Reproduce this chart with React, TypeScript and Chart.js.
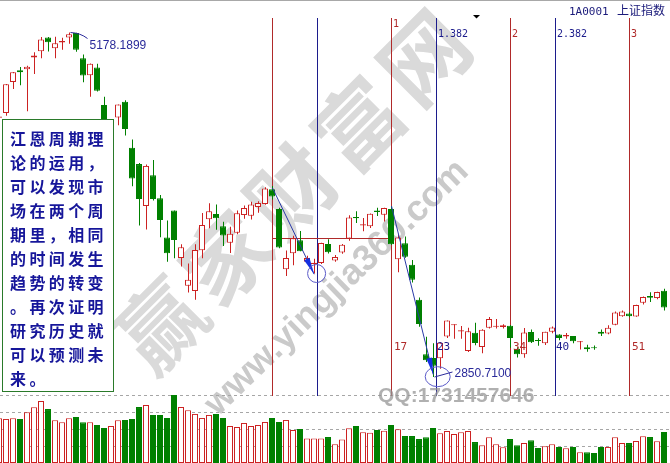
import React, { useEffect, useRef } from "react";
import { Chart, registerables } from "chart.js";

Chart.register(...registerables);

// ---- data (Shanghai Composite daily) ----
const dates = [
  "05-29",
  "06-01", "06-02", "06-03", "06-04", "06-05", "06-08", "06-09", "06-10", "06-11", "06-12",
  "06-15", "06-16", "06-17", "06-18", "06-19", "06-23", "06-24", "06-25", "06-26",
  "06-29", "06-30", "07-01", "07-02", "07-03", "07-06", "07-07", "07-08", "07-09", "07-10",
  "07-13", "07-14", "07-15", "07-16", "07-17", "07-20", "07-21", "07-22", "07-23", "07-24",
  "07-27", "07-28", "07-29", "07-30", "07-31", "08-03", "08-04", "08-05", "08-06", "08-07",
  "08-10", "08-11", "08-12", "08-13", "08-14", "08-17", "08-18", "08-19", "08-20", "08-21",
  "08-24", "08-25", "08-26", "08-27", "08-28", "08-31", "09-01", "09-02", "09-07", "09-08",
  "09-09", "09-10", "09-11", "09-14", "09-15", "09-16", "09-17", "09-18", "09-21", "09-22",
  "09-23", "09-24", "09-25", "09-28", "09-29", "09-30", "10-08", "10-09", "10-12", "10-13",
  "10-14", "10-15", "10-16", "10-19", "10-20", "10-21",
];
const opens = [
  4603,
  4634, 4844, 4924, 4930, 5010, 5052, 5145, 5071, 5110, 5144,
  5175, 5004, 4890, 4942, 4689, 4471, 4604, 4711, 4399,
  4289, 4006, 4214, 4058, 3793, 3975, 3654, 3467, 3432, 3707,
  3916, 3952, 3870, 3758, 3826, 3945, 3940, 4000, 4020, 4120,
  3985, 3578, 3686, 3774, 3630, 3614, 3621, 3749, 3638, 3692,
  3786, 3928, 3874, 3869, 3976, 3947, 3986, 3646, 3754, 3609,
  3373, 3004, 2980, 2978, 3125, 3203, 3158, 3027, 3149, 3054,
  3183, 3190, 3189, 3197, 3041, 3004, 3154, 3098, 3078, 3157,
  3138, 3125, 3128, 3086, 3052, 3050, 3156, 3145, 3203, 3262,
  3280, 3259, 3353, 3398, 3384, 3434,
];
const highs = [
  4631,
  4830, 4911, 4945, 4953, 5045, 5147, 5147, 5150, 5143, 5178.19,
  5176, 5029, 4969, 4967, 4744, 4577, 4691, 4720, 4456,
  4297, 4287, 4317, 4080, 3908, 3975, 3748, 3617, 3748, 3959,
  4024, 4017, 3900, 3866, 3975, 4010, 4035, 4038, 4132, 4141,
  3995, 3705, 3805, 3838, 3670, 3650, 3757, 3782, 3675, 3750,
  3943, 3970, 3925, 3955, 3994, 3994, 4006, 3811, 3800, 3641,
  3388, 3123, 3079, 3085, 3233, 3207, 3195, 3183, 3217, 3174,
  3256, 3243, 3208, 3202, 3052, 3182, 3172, 3113, 3157, 3192,
  3140, 3148, 3128, 3094, 3069, 3063, 3172, 3200, 3294, 3300,
  3288, 3339, 3394, 3423, 3426, 3447,
];
const lows = [
  4563,
  4615, 4797, 4821, 4647, 4898, 5005, 5050, 5004, 5062, 5103,
  5048, 4842, 4744, 4780, 4476, 4264, 4552, 4483, 4139,
  3875, 3847, 4043, 3795, 3629, 3653, 3597, 3421, 3373, 3653,
  3855, 3845, 3736, 3688, 3815, 3920, 3915, 3960, 4015, 4050,
  3720, 3533, 3606, 3701, 3620, 3550, 3614, 3685, 3629, 3683,
  3771, 3891, 3835, 3857, 3938, 3901, 3743, 3558, 3657, 3490,
  3191, 2952, 2850.71, 2906, 3114, 3109, 3110, 3019, 3066, 3011,
  3179, 3178, 3178, 3049, 2983, 2981, 3081, 3062, 3067, 3146,
  3099, 3110, 3078, 3036, 3021, 3035, 3127, 3140, 3200, 3258,
  3255, 3258, 3340, 3357, 3376, 3300,
];
const closes = [
  4611,
  4828, 4910, 4910, 4947, 5023, 5131, 5113, 5106, 5121, 5166,
  5062, 4887, 4967, 4785, 4478, 4576, 4691, 4527, 4192,
  4053, 4277, 4053, 3912, 3686, 3776, 3727, 3507, 3709, 3877,
  3970, 3924, 3806, 3818, 3957, 3992, 4017, 4026, 4124, 4070,
  3725, 3655, 3789, 3700, 3655, 3622, 3756, 3694, 3661, 3744,
  3928, 3927, 3882, 3954, 3965, 3993, 3748, 3794, 3664, 3507,
  3209, 2964, 2927, 3083, 3232, 3205, 3166, 3160, 3080, 3170,
  3243, 3197, 3200, 3114, 3005, 3152, 3086, 3097, 3157, 3185,
  3115, 3135, 3092, 3093, 3038, 3046, 3143, 3183, 3287, 3293,
  3262, 3338, 3391, 3386, 3425, 3320,
];
const volumes = [
  267,
  263, 267, 263, 303, 333, 370, 322, 255, 243, 267,
  275, 243, 243, 227, 209, 221, 255, 257, 263,
  334, 346, 287, 287, 269, 406, 334, 315, 293, 269,
  287, 293, 269, 221, 215, 239, 221, 227, 245, 269,
  245, 257, 197, 203, 147, 147, 147, 155, 112, 141,
  207, 221, 183, 181, 197, 193, 227, 201, 161, 161,
  143, 153, 209, 177, 191, 173, 183, 191, 125, 106,
  153, 112, 94, 143, 106, 119, 136, 90, 100, 112,
  96, 88, 96, 64, 64, 60, 96, 96, 153, 119,
  119, 131, 159, 155, 130, 185,
];
const FIRST_INDEX = -1;

const volumeGrid = [100, 200, 300, 400];

const peakIndex = 9;
const peakText = "5178.1899";
const troughIndex = 61;
const troughText = "2850.7100";

const redCycleIndex = [38, 55, 72, 89];
const redCycleText = ["", "1", "2", "3"];
const blueCycleIndex = [44.49, 61.49, 78.49];
const blueCycleText = ["", "1.382", "2.382"];
const countIndex = [55, 61.49, 72, 78.49, 89];
const countText = ["17", "23", "34", "40", "51"];
const countBlue = [false, true, false, true, false];

const arrowStart = [[38, 4128], [55, 4006]];
const arrowEnd = [[43.95, 3545], [60.97, 2867]];
const circleCenter = [[44.3, 3550], [61.6, 2853]];
const circleRadius = [[9, 9], [12.5, 10]];
const levelLine = [38, 55, 3788];

const noteLines = [
  "江恩周期理",
  "论的运用，",
  "可以发现市",
  "场在两个周",
  "期里，相同",
  "的时间发生",
  "趋势的转变",
  "。再次证明",
  "研究历史就",
  "可以预测未",
  "来。",
];
const headerCode = "1A0001";
const headerName = "上证指数";
const watermarkText = "赢家财富网";
const watermarkUrl = "www.yingjia360.com";
const watermarkQQ = "QQ:1731457646";

// ---- scale setup ----
const W = 670;
const H = 463;
const X_MIN = -6.5 / 7;
const X_MAX = X_MIN + W / 7;
const XB_MIN = X_MIN + 0.5 / 7;
const XB_MAX = XB_MIN + W / 7;
const P_MAX = 5397.76;
const P_MIN = 2269.8;
const V_MAX = 2764;

const RED = "#cc2222";
const GREEN = "#008000";
const LINE_RED = "#b02a2a";
const NAVY = "#1c1c8c";

const crisp = (v: number) => Math.round(v - 0.5) + 0.5;

function drawArrow(ctx: CanvasRenderingContext2D, x1: number, y1: number, x2: number, y2: number, len: number, wid: number) {
  ctx.strokeStyle = "#2a3aa8";
  ctx.lineWidth = 1;
  ctx.beginPath();
  ctx.moveTo(x1, y1);
  ctx.lineTo(x2, y2);
  ctx.stroke();
  const a = Math.atan2(y2 - y1, x2 - x1);
  const bx = x2 - len * Math.cos(a);
  const by = y2 - len * Math.sin(a);
  const nx = (-Math.sin(a) * wid) / 2;
  const ny = (Math.cos(a) * wid) / 2;
  ctx.fillStyle = "#1530e0";
  ctx.beginPath();
  ctx.moveTo(x2, y2);
  ctx.lineTo(bx + nx, by + ny);
  ctx.lineTo(bx - nx, by - ny);
  ctx.closePath();
  ctx.fill();
}

const overlay = {
  id: "overlay",
  beforeDatasetsDraw(chart: any) {
    const ctx: CanvasRenderingContext2D = chart.ctx;
    const xs = chart.scales.x;
    const ys = chart.scales.y;
    const vs = chart.scales.yv;
    ctx.save();
    // top frame
    ctx.strokeStyle = "#a8a8a8";
    ctx.lineWidth = 1;
    ctx.beginPath();
    ctx.moveTo(0, 0.5);
    ctx.lineTo(W, 0.5);
    ctx.stroke();

    // watermark
    ctx.textAlign = "center";
    ctx.textBaseline = "middle";
    ctx.fillStyle = "#dadada";
    ctx.font = 'bold 86px "Noto Sans CJK SC"';
    for (let i = 0; i < watermarkText.length; i++) {
      ctx.save();
      ctx.translate(160 + i * 66, 325 - i * 67);
      ctx.rotate((-45 * Math.PI) / 180);
      ctx.fillText(watermarkText[i], 0, 0);
      ctx.restore();
    }
    ctx.save();
    ctx.translate(337, 288);
    ctx.rotate((-44 * Math.PI) / 180);
    ctx.font = 'bold 36px "Liberation Sans"';
    ctx.fillStyle = "#cacaca";
    ctx.fillText(watermarkUrl, 0, 0);
    ctx.restore();

    // volume grid
    ctx.strokeStyle = "#a6a6a6";
    ctx.setLineDash([3, 3]);
    for (const v of volumeGrid) {
      const y = crisp(vs.getPixelForValue(v));
      ctx.beginPath();
      ctx.moveTo(0, y);
      ctx.lineTo(W, y);
      ctx.stroke();
    }
    ctx.setLineDash([]);

    // cycle lines
    const top = 18;
    const bottom = Math.round(vs.getPixelForValue(400));
    ctx.strokeStyle = LINE_RED;
    for (const k of redCycleIndex) {
      const x = crisp(xs.getPixelForValue(k));
      ctx.beginPath();
      ctx.moveTo(x, top);
      ctx.lineTo(x, bottom);
      ctx.stroke();
    }
    ctx.strokeStyle = NAVY;
    for (const k of blueCycleIndex) {
      const x = crisp(xs.getPixelForValue(k));
      ctx.beginPath();
      ctx.moveTo(x, top);
      ctx.lineTo(x, bottom);
      ctx.stroke();
    }
    // level line
    ctx.strokeStyle = LINE_RED;
    const ly = crisp(ys.getPixelForValue(levelLine[2]));
    ctx.beginPath();
    ctx.moveTo(crisp(xs.getPixelForValue(levelLine[0])), ly);
    ctx.lineTo(crisp(xs.getPixelForValue(levelLine[1])), ly);
    ctx.stroke();
    ctx.restore();
  },
  afterDatasetsDraw(chart: any) {
    const ctx: CanvasRenderingContext2D = chart.ctx;
    const xs = chart.scales.x;
    const ys = chart.scales.y;
    ctx.save();

    // arrows
    for (let i = 0; i < arrowStart.length; i++) {
      drawArrow(
        ctx,
        xs.getPixelForValue(arrowStart[i][0]),
        ys.getPixelForValue(arrowStart[i][1]),
        xs.getPixelForValue(arrowEnd[i][0]),
        ys.getPixelForValue(arrowEnd[i][1]),
        17,
        6
      );
    }
    // circles
    ctx.strokeStyle = "#5a5ac8";
    ctx.lineWidth = 1;
    for (let i = 0; i < circleCenter.length; i++) {
      ctx.beginPath();
      ctx.ellipse(
        xs.getPixelForValue(circleCenter[i][0]),
        ys.getPixelForValue(circleCenter[i][1]),
        circleRadius[i][0],
        circleRadius[i][1],
        0,
        0,
        Math.PI * 2
      );
      ctx.stroke();
    }

    // peak / trough annotations
    const pi = peakIndex - FIRST_INDEX;
    const px0 = xs.getPixelForValue(peakIndex) + 1;
    const py0 = ys.getPixelForValue(highs[pi]);
    ctx.strokeStyle = "#2a2a9a";
    ctx.beginPath();
    ctx.moveTo(px0, py0);
    ctx.quadraticCurveTo(px0 + 10, py0 + 0.5, px0 + 17, py0 + 6);
    ctx.stroke();
    ctx.fillStyle = "#2a2a9a";
    ctx.font = '12px "Liberation Sans"';
    ctx.textAlign = "left";
    ctx.textBaseline = "alphabetic";
    ctx.fillText(peakText, px0 + 19, py0 + 16);

    const ti = troughIndex - FIRST_INDEX;
    const tx0 = xs.getPixelForValue(troughIndex) + 1;
    const ty0 = ys.getPixelForValue(lows[ti]);
    ctx.beginPath();
    ctx.moveTo(tx0, ty0);
    ctx.lineTo(tx0 + 18, ty0 - 5);
    ctx.stroke();
    ctx.fillText(troughText, tx0 + 20, ty0 - 0.5);

    // cycle labels
    ctx.font = '10px "DejaVu Sans Mono"';
    for (let i = 0; i < redCycleIndex.length; i++) {
      if (!redCycleText[i]) continue;
      ctx.fillStyle = LINE_RED;
      const x = Math.round(xs.getPixelForValue(redCycleIndex[i])) + 1;
      ctx.fillText(redCycleText[i], x, i === 1 ? 27 : 37);
    }
    for (let i = 0; i < blueCycleIndex.length; i++) {
      if (!blueCycleText[i]) continue;
      ctx.fillStyle = NAVY;
      const x = Math.round(xs.getPixelForValue(blueCycleIndex[i])) + 1;
      ctx.fillText(blueCycleText[i], x, 37);
    }
    ctx.font = '11px "DejaVu Sans Mono"';
    for (let i = 0; i < countIndex.length; i++) {
      ctx.fillStyle = countBlue[i] ? NAVY : LINE_RED;
      const x = Math.round(xs.getPixelForValue(countIndex[i])) + (countBlue[i] ? 0 : 2);
      ctx.fillText(countText[i], x, 350);
    }

    // header
    ctx.fillStyle = "#1a1a7a";
    ctx.font = '11px "DejaVu Sans Mono"';
    ctx.fillText(headerCode, 569, 15);
    ctx.font = '12px "Noto Sans CJK SC"';
    ctx.fillText(headerName, 617, 15);
    ctx.fillStyle = "#000";
    ctx.beginPath();
    ctx.moveTo(473, 15);
    ctx.lineTo(480, 15);
    ctx.lineTo(476.5, 18.5);
    ctx.closePath();
    ctx.fill();

    // QQ watermark
    ctx.fillStyle = "rgba(150,150,150,0.75)";
    ctx.font = 'bold 21px "Liberation Sans"';
    ctx.fillText(watermarkQQ, 378, 402);

    // note box
    ctx.fillStyle = "#ffffff";
    ctx.fillRect(2, 119, 112, 273);
    ctx.strokeStyle = "#2a7a2a";
    ctx.strokeRect(2.5, 119.5, 111, 272);
    ctx.fillStyle = "#16169a";
    ctx.font = 'bold 16px "Noto Sans CJK SC"';
    ctx.textBaseline = "middle";
    for (let r = 0; r < noteLines.length; r++) {
      const line = noteLines[r];
      for (let c = 0; c < line.length; c++) {
        ctx.fillText(line[c], 10 + c * 19.4, 139 + r * 24);
      }
    }
    ctx.restore();
  },
};

export default function App() {
  const ref = useRef<HTMLCanvasElement>(null);
  useEffect(() => {
    document.body.style.margin = "0";
    const canvas = ref.current;
    if (!canvas) return;
    const xsIdx = opens.map((_, i) => i + FIRST_INDEX);
    const up = closes.map((c, i) => c >= opens[i]);
    const minBody = 7;
    const bodyData = xsIdx.map((x, i) => {
      let a = opens[i];
      let b = closes[i];
      if (Math.abs(b - a) < minBody) {
        const m = (a + b) / 2;
        a = m - minBody / 2;
        b = m + minBody / 2;
      }
      return { x, y: [a, b] };
    });
    const wickData = xsIdx.map((x, i) => ({ x, y: [lows[i], highs[i]] }));
    const volData = xsIdx.map((x, i) => ({ x, y: volumes[i] }));

    const chart = new Chart(canvas, {
      type: "bar",
      data: {
        labels: dates,
        datasets: [
          {
            label: "body",
            data: bodyData as any,
            xAxisID: "xb",
            yAxisID: "y",
            grouped: false,
            barThickness: 6,
            borderWidth: 1,
            borderSkipped: false,
            inflateAmount: 0,
            backgroundColor: up.map((u) => (u ? "#ffffff" : GREEN)),
            borderColor: up.map((u) => (u ? RED : GREEN)),
          } as any,
          {
            label: "wick",
            data: wickData as any,
            xAxisID: "x",
            yAxisID: "y",
            grouped: false,
            barThickness: 1,
            borderWidth: 0,
            borderSkipped: false,
            inflateAmount: 0,
            backgroundColor: up.map((u) => (u ? RED : GREEN)),
          } as any,
          {
            label: "volume",
            data: volData as any,
            xAxisID: "xb",
            yAxisID: "yv",
            grouped: false,
            barThickness: 6,
            borderWidth: 1,
            borderSkipped: false,
            inflateAmount: 0,
            backgroundColor: up.map((u) => (u ? "#ffffff" : GREEN)),
            borderColor: up.map((u) => (u ? RED : GREEN)),
          } as any,
        ],
      },
      options: {
        animation: false,
        responsive: false,
        devicePixelRatio: 1,
        events: [],
        layout: { padding: 0 },
        plugins: {
          legend: { display: false },
          tooltip: { enabled: false },
          title: { display: false },
        },
        scales: {
          x: { type: "linear", min: X_MIN, max: X_MAX, display: false, offset: false },
          xb: { type: "linear", axis: "x", position: "bottom", min: XB_MIN, max: XB_MAX, display: false, offset: false },
          y: { type: "linear", min: P_MIN, max: P_MAX, display: false },
          yv: { type: "linear", min: 0, max: V_MAX, display: false, position: "right" },
        },
      } as any,
      plugins: [overlay],
    });
    return () => chart.destroy();
  }, []);
  return (
    <div style={{ width: W, height: H, background: "#ffffff", overflow: "hidden" }}>
      <canvas ref={ref} width={W} height={H} style={{ display: "block" }} />
    </div>
  );
}
